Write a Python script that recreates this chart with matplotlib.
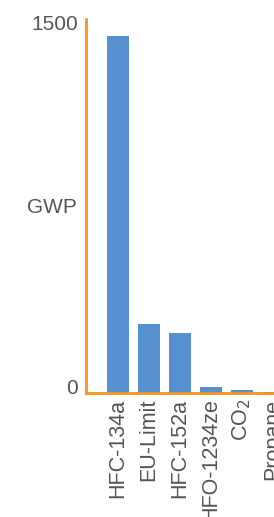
import numpy as np
import matplotlib
matplotlib.use("Agg")
import matplotlib.pyplot as plt
import matplotlib.transforms as mtrans

# Werte (Balkenhoehen)
gases = ["HFC-134a", "EU-Limit", "HFC-152a", "HFO-1234ze", "CO$_2$", "Propane"]
gwp = [1430, 277, 240, 24, 12, 4]
y_ticks = [0, 1500]

orange = "#F7941D"
blau = "#5690D0"
grau = "#555555"

plt.rcParams['font.family'] = ['Liberation Sans', 'DejaVu Sans']

fig = plt.figure(figsize=(2.74, 5.17), dpi=100)
ax = fig.add_axes([86/274, 124/517, 188/274, 374/517])

x = np.arange(len(gases))
ax.bar(x, gwp, width=0.71, color=blau)

ax.set_ylim(0, 1500)
ax.set_xlim(-1.03, 5.03)
ax.set_yticks(y_ticks)
ax.set_yticklabels([str(t) for t in y_ticks], fontsize=15, color=grau)
ax.set_xticks(x)
ax.set_xticklabels(gases, rotation=90, fontsize=15.5, color=grau)
ax.tick_params(axis='both', length=0)
ax.tick_params(axis='y', pad=6)
ax.tick_params(axis='x', pad=4)

# 0 etwas hoeher, 1500 etwas tiefer wie im Original
lbls = ax.get_yticklabels()
lbls[0].set_transform(lbls[0].get_transform() + mtrans.ScaledTranslation(0, 6/100, fig.dpi_scale_trans))
lbls[1].set_transform(lbls[1].get_transform() + mtrans.ScaledTranslation(0, -3/100, fig.dpi_scale_trans))

ax.set_ylabel("GWP", rotation=0, fontsize=15, color=grau, ha='right', va='center')
ax.yaxis.set_label_coords(-0.048, 0.495)

for s in ['top', 'right']:
    ax.spines[s].set_visible(False)
for s in ['left', 'bottom']:
    ax.spines[s].set_color(orange)
    ax.spines[s].set_linewidth(2)

fig.savefig("out.png", dpi=100)
